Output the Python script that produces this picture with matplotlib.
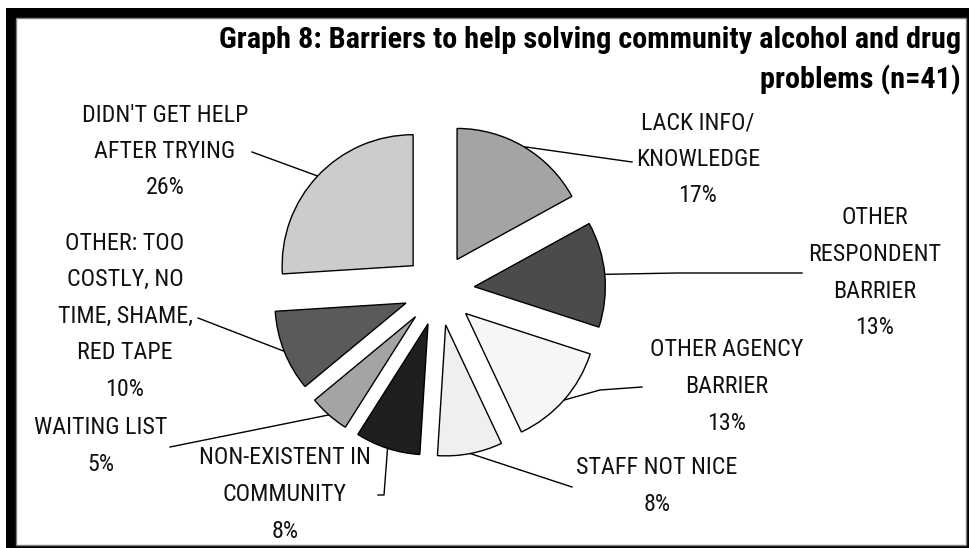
import matplotlib
matplotlib.use("Agg")
import matplotlib.pyplot as plt
from matplotlib.patches import Rectangle
from matplotlib import font_manager as fm
import numpy as np

# Survey results (percent of respondents, n=41), clockwise from 12 o'clock
categories = [
    "LACK INFO/\nKNOWLEDGE",
    "OTHER\nRESPONDENT\nBARRIER",
    "OTHER AGENCY\nBARRIER",
    "STAFF NOT NICE",
    "NON-EXISTENT IN\nCOMMUNITY",
    "WAITING LIST",
    "OTHER: TOO\nCOSTLY, NO\nTIME, SHAME,\nRED TAPE",
    "DIDN'T GET HELP\nAFTER TRYING",
]
percent = [17, 13, 13, 8, 8, 5, 10, 26]
slice_colors = ["#a4a4a4", "#4b4b4b", "#f6f6f6", "#efefef",
                "#1f1f1f", "#a4a4a4", "#5a5a5a", "#cccccc"]
title_lines = ["Graph 8: Barriers to help solving community alcohol and drug",
               "problems (n=41)"]

W, H = 969, 548


def Y(row):
    """Convert a pixel row (counted from the top) to data y."""
    return H - row


def _weight_num(w):
    if isinstance(w, (int, float)):
        return int(w)
    return {"bold": 700, "normal": 400, "regular": 400, "book": 400,
            "medium": 500, "semibold": 600, "demibold": 600}.get(str(w).lower(), 400)


def narrow_font(bold, fallback):
    """Pick a narrow sans face of the right weight, else the fallback family."""
    prefer = ["Liberation Sans Narrow", "Arial Narrow", "Roboto Condensed",
              "Noto Sans", "DejaVu Sans", "Open Sans", "Roboto"]
    target = 700 if bold else 400
    best, best_score = None, None
    for f in fm.fontManager.ttflist:
        narrow = (f.stretch in ("condensed", "semi-condensed")
                  or "Narrow" in f.name or "Condensed" in f.name)
        if not narrow or f.style != "normal":
            continue
        if abs(_weight_num(f.weight) - target) > 50:
            continue
        rank = prefer.index(f.name) if f.name in prefer else len(prefer)
        score = (rank, 0 if f.stretch == "condensed" else 1)
        if best_score is None or score < best_score:
            best, best_score = f, score
    if best is not None:
        return fm.FontProperties(fname=best.fname)
    return fm.FontProperties(family=fallback,
                             weight="bold" if bold else "normal")


fig = plt.figure(figsize=(W / 100, H / 100), dpi=100)
ax = fig.add_axes([0, 0, 1, 1])
renderer = fig.canvas.get_renderer()


def fitted_size(text, target_px, prop, base=15.0):
    t = fig.text(0, 0, text, fontproperties=prop, fontsize=base)
    w = t.get_window_extent(renderer).width
    t.remove()
    return base * target_px / w


label_font = narrow_font(False, "Roboto")
title_font = narrow_font(True, "Liberation Sans")
label_size = fitted_size("DIDN'T GET HELP", 166, label_font)
title_size = fitted_size(title_lines[0], 742, title_font)

# Panel frame: heavy black edge top/left, thin edge bottom/right
ax.add_patch(Rectangle((6, 0), W - 6, Y(8), facecolor="black",
                       edgecolor="none", zorder=0))
ax.add_patch(Rectangle((16, Y(545)), 966 - 16, 545 - 18, facecolor="white",
                       edgecolor="#808080", linewidth=1.0, zorder=0.5))

# Exploded pie
radius = 131
wedges, _ = ax.pie(percent, colors=slice_colors, startangle=90,
                   counterclock=False, center=(439, Y(290)), radius=radius,
                   explode=[35.5] * len(percent),
                   wedgeprops=dict(edgecolor="black", linewidth=1.0),
                   normalize=True)
for w in wedges:
    w.set_zorder(2)

# Label placement: (center x, first-line row) in pixels
label_pos = [(698, 123), (875, 218), (727, 350), (657, 468),
             (285, 458), (101, 428), (125, 243), (165, 115)]
line_pitch = 36.5
# Leader line start points near each label (pixels)
leader_start = [
    [(632, 162)],
    [(802, 273), (677, 273)],
    [(642, 387), (600, 390)],
    [(572, 487)],
    [(378, 495), (384, 495)],
    [(170, 447)],
    [(198, 318)],
    [(252, 152)],
]

for w, cat, pct, (lx, ly), pts in zip(wedges, categories, percent,
                                      label_pos, leader_start):
    lines = cat.split("\n") + [f"{pct}%"]
    for i, s in enumerate(lines):
        ax.text(lx, Y(ly + i * line_pitch), s, ha="center", va="center",
                fontproperties=label_font, fontsize=label_size,
                color="#111111", zorder=3)
    mid = np.deg2rad(0.5 * (w.theta1 + w.theta2))
    cx, cy = w.center
    ex, ey = cx + w.r * np.cos(mid), cy + w.r * np.sin(mid)
    xs = [p[0] for p in pts] + [ex]
    ys = [Y(p[1]) for p in pts] + [ey]
    ax.plot(xs, ys, color="black", linewidth=1.0, zorder=1.5)

# Title, right aligned
ax.text(961, Y(40), title_lines[0], ha="right", va="center",
        fontproperties=title_font, fontsize=title_size, zorder=3)
ax.text(961, Y(80), title_lines[1], ha="right", va="center",
        fontproperties=title_font, fontsize=title_size, zorder=3)

ax.set_xlim(0, W)
ax.set_ylim(0, H)
ax.set_aspect("equal")
ax.axis("off")

fig.savefig("out.png", dpi=100, facecolor="white")
